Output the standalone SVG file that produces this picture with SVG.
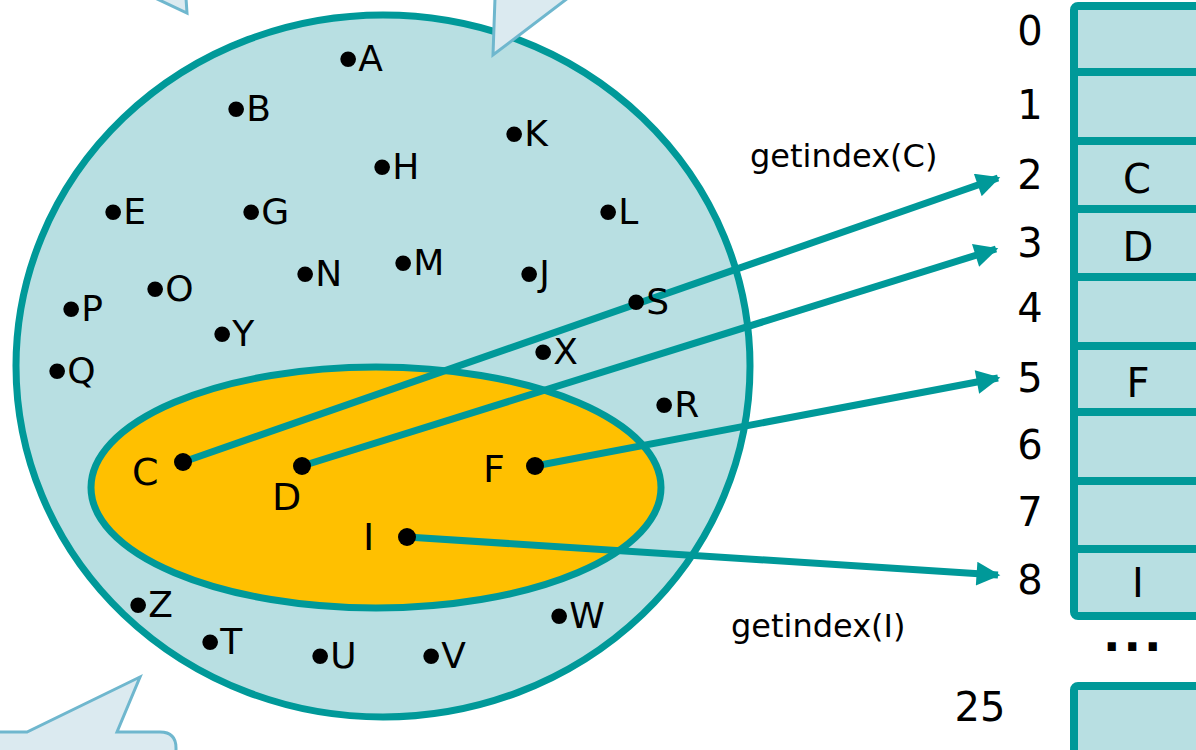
<svg xmlns="http://www.w3.org/2000/svg" width="1196" height="750" viewBox="0 0 1196 750">
<defs>
<style>
.t{font-family:"DejaVu Sans",Verdana,sans-serif;fill:#000}
.pt{font-size:36px}
.b{font-family:"Liberation Sans",Arial,sans-serif;font-size:58px}
.big{font-size:38px}
.idx{font-size:40px;text-anchor:middle}
.cell{font-size:40px;text-anchor:middle}
.lbl{font-size:32px}
.callout{fill:#dbeaf0;stroke:#6fb7ce;stroke-width:3;stroke-linejoin:miter}
.arr{stroke:#009999;stroke-width:7;fill:none}
.box{fill:#b8dfe2;stroke:#009999;stroke-width:8}
</style>
<marker id="ah" viewBox="0 0 10 10" refX="9" refY="5" markerWidth="4" markerHeight="3.4" orient="auto" markerUnits="strokeWidth">
<path d="M0,0 L10,5 L0,10 z" fill="#009999"/>
</marker>
</defs>

<g id="universe">
<ellipse cx="383" cy="366" rx="367" ry="351" fill="#b8dfe2" stroke="#009999" stroke-width="7"/>
</g>

<g id="callouts">
<path class="callout" d="M155,-2 L187,13 L186,-2 z"/>
<path class="callout" d="M495,-2 L493,55 L568,-2 z"/>
<path class="callout" d="M-5,732 L27,732 L140,677 L117,732 L160,732 Q176,732 176,748 L176,760 L-5,760 z"/>
</g>

<g id="subset">
<ellipse cx="376" cy="487.5" rx="285" ry="120.5" fill="#ffc000" stroke="#009999" stroke-width="7"/>
</g>

<g id="connectors">
<line class="arr" x1="183" y1="462" x2="998" y2="178" marker-end="url(#ah)"/>
<line class="arr" x1="302" y1="466" x2="996" y2="249" marker-end="url(#ah)"/>
<line class="arr" x1="535" y1="466" x2="998" y2="378" marker-end="url(#ah)"/>
<line class="arr" x1="407" y1="537" x2="998" y2="575" marker-end="url(#ah)"/>
</g>

<g id="points" class="t pt">
<text x="338" y="71"><tspan class="b" dy="7">•</tspan><tspan dy="-7">A</tspan></text>
<text x="226" y="121"><tspan class="b" dy="7">•</tspan><tspan dy="-7">B</tspan></text>
<text x="504" y="146"><tspan class="b" dy="7">•</tspan><tspan dy="-7">K</tspan></text>
<text x="372" y="179"><tspan class="b" dy="7">•</tspan><tspan dy="-7">H</tspan></text>
<text x="103" y="224"><tspan class="b" dy="7">•</tspan><tspan dy="-7">E</tspan></text>
<text x="241" y="224"><tspan class="b" dy="7">•</tspan><tspan dy="-7">G</tspan></text>
<text x="598" y="224"><tspan class="b" dy="7">•</tspan><tspan dy="-7">L</tspan></text>
<text x="295" y="286"><tspan class="b" dy="7">•</tspan><tspan dy="-7">N</tspan></text>
<text x="393" y="275"><tspan class="b" dy="7">•</tspan><tspan dy="-7">M</tspan></text>
<text x="519" y="286"><tspan class="b" dy="7">•</tspan><tspan dy="-7">J</tspan></text>
<text x="61" y="321"><tspan class="b" dy="7">•</tspan><tspan dy="-7">P</tspan></text>
<text x="145" y="301"><tspan class="b" dy="7">•</tspan><tspan dy="-7">O</tspan></text>
<text x="626" y="314"><tspan class="b" dy="7">•</tspan><tspan dy="-7">S</tspan></text>
<text x="212" y="346"><tspan class="b" dy="7">•</tspan><tspan dy="-7">Y</tspan></text>
<text x="533" y="364"><tspan class="b" dy="7">•</tspan><tspan dy="-7">X</tspan></text>
<text x="47" y="383"><tspan class="b" dy="7">•</tspan><tspan dy="-7">Q</tspan></text>
<text x="654" y="417"><tspan class="b" dy="7">•</tspan><tspan dy="-7">R</tspan></text>
<text x="128" y="617"><tspan class="b" dy="7">•</tspan><tspan dy="-7">Z</tspan></text>
<text x="549" y="628"><tspan class="b" dy="7">•</tspan><tspan dy="-7">W</tspan></text>
<text x="200" y="654"><tspan class="b" dy="7">•</tspan><tspan dy="-7">T</tspan></text>
<text x="310" y="668"><tspan class="b" dy="7">•</tspan><tspan dy="-7">U</tspan></text>
<text x="421" y="668"><tspan class="b" dy="7">•</tspan><tspan dy="-7">V</tspan></text>
</g>

<g id="key-C"><circle cx="183" cy="462" r="9"/><text class="t big" x="132" y="485">C</text></g>
<g id="key-D"><circle cx="302" cy="466" r="9"/><text class="t big" x="272" y="510">D</text></g>
<g id="key-F"><circle cx="535" cy="466" r="9"/><text class="t big" x="483" y="482">F</text></g>
<g id="key-I"><circle cx="407" cy="537" r="9"/><text class="t big" x="363" y="550">I</text></g>

<g id="labels" class="t lbl">
<text x="750" y="167">getindex(C)</text>
<text x="731" y="637">getindex(I)</text>
</g>

<g id="array">
<rect class="box" x="1074" y="6" width="140" height="610" rx="4"/>
<g stroke="#009999" stroke-width="8">
<line x1="1074" y1="72" x2="1200" y2="72"/>
<line x1="1074" y1="141" x2="1200" y2="141"/>
<line x1="1074" y1="209" x2="1200" y2="209"/>
<line x1="1074" y1="277" x2="1200" y2="277"/>
<line x1="1074" y1="346" x2="1200" y2="346"/>
<line x1="1074" y1="412" x2="1200" y2="412"/>
<line x1="1074" y1="481" x2="1200" y2="481"/>
<line x1="1074" y1="549" x2="1200" y2="549"/>
</g>
<rect class="box" x="1074" y="686" width="140" height="90" rx="4"/>
<g class="t cell">
<text x="1137" y="193">C</text>
<text x="1138" y="261">D</text>
<text x="1138" y="397">F</text>
<text x="1138" y="597">I</text>
</g>
<text class="t" x="1103" y="651" style="font-size:46px;font-weight:bold;letter-spacing:3px">...</text>
</g>

<g id="indices" class="t idx">
<text x="1030" y="45">0</text>
<text x="1030" y="119">1</text>
<text x="1030" y="189">2</text>
<text x="1030" y="257">3</text>
<text x="1030" y="322">4</text>
<text x="1030" y="392">5</text>
<text x="1030" y="459">6</text>
<text x="1030" y="526">7</text>
<text x="1030" y="594">8</text>
<text x="980" y="721">25</text>
</g>
</svg>
